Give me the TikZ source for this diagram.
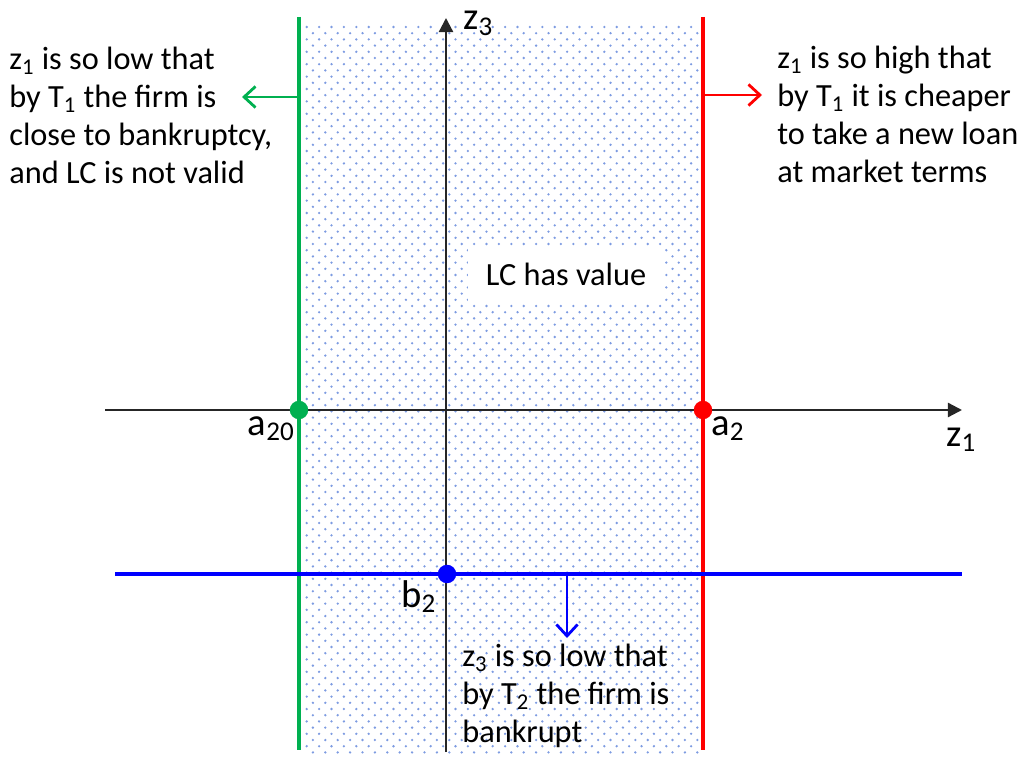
\documentclass[tikz,border=0pt]{standalone}
\usepackage{fontspec}
\setmainfont{Carlito}
\usepackage{tikz}
\usetikzlibrary{arrows.meta, positioning}
\definecolor{lcgreen}{RGB}{0,176,80}
\definecolor{lcred}{RGB}{255,0,0}
\definecolor{lcblue}{RGB}{0,0,255}
\definecolor{lcdot}{RGB}{125,155,225}
\tikzset{
  axisline/.style={
    -{Triangle[length=8pt, width=8pt]}, line width=1.3pt, color=black!85
  },
  boundline/.style={line width=1.9pt},
  hintarrow/.style={
    -{Straight Barb[length=6.5pt, width=12pt]}, line width=1.6pt
  },
  notelabel/.style={
    font=\fontsize{18.4}{21.6}\selectfont, align=left, inner sep=0pt
  },
  axislabel/.style={font=\fontsize{22}{26}\selectfont, inner sep=0pt},
  valuebox/.style={
    fill=white, font=\fontsize{18.4}{21.6}\selectfont,
    minimum width=3.92cm, minimum height=1.14cm
  },
  pointdot/.style={circle, inner sep=0pt, minimum size=10.5pt},
}

\begin{document}
\begin{tikzpicture}[x=0.02cm, y=-0.02cm]
  \useasboundingbox (0,0) rectangle (1028,757);

  % ── Dotted zone between the bounds ──
  \begin{scope}
    \clip (300,0) rectangle (703,757);
    \foreach \r in {0,...,118} {
      \fill[lcdot] \foreach \c in {0,...,32} {
        ({306.7+12.4*\c+6.2*mod(\r,2)}, {27+6.2*\r}) circle[radius=1.3]
      };
    }
  \end{scope}

  \node[valuebox] (lcvalue) at (566,274.5) {LC has value};

  % ── Axes ──
  \coordinate (z1start) at (105,410);
  \coordinate (z1end) at (962,410);
  \coordinate (z3start) at (446,752);
  \coordinate (z3end) at (446,18);
  \draw[axisline] (z1start) -- (z1end);
  \draw[axisline] (z3start) -- (z3end);
  \node[axislabel, anchor=base west] (z1label) at (946,446) {z\textsubscript{1}};
  \node[axislabel, anchor=base west] (z3label) at (463,30) {z\textsubscript{3}};

  % ── Lower bound a20 ──
  \coordinate (greentop) at (299,17);
  \coordinate (greenbot) at (299,750);
  \coordinate (greenmid) at (299,97);
  \coordinate (greentip) at (242,97);
  \draw[boundline, lcgreen] (greentop) -- (greenbot);
  \draw[hintarrow, lcgreen] (greenmid) -- (greentip);
  \node[pointdot, fill=lcgreen] (a20dot) at (299,410) {};
  \node[axislabel, anchor=base east] (a20label) at (295,435) {a\textsubscript{20}};
  \node[notelabel, anchor=north west] (lowlabel) at (9,47)
    {z\textsubscript{1} is so low that\\by T\textsubscript{1} the firm is\\
     close to bankruptcy,\\and LC is not valid};

  % ── Upper bound a2 ──
  \coordinate (redtop) at (703,17);
  \coordinate (redbot) at (703,750);
  \coordinate (redmid) at (703,95);
  \coordinate (redtip) at (762,95);
  \draw[boundline, lcred] (redtop) -- (redbot);
  \draw[hintarrow, lcred] (redmid) -- (redtip);
  \node[pointdot, fill=lcred] (a2dot) at (703,410) {};
  \node[axislabel, anchor=base west] (a2label) at (711,435) {a\textsubscript{2}};
  \node[notelabel, anchor=north west] (highlabel) at (777,46)
    {z\textsubscript{1} is so high that\\by T\textsubscript{1} it is cheaper\\
     to take a new loan\\at market terms};

  % ── Bankruptcy level b2 ──
  \coordinate (bluestart) at (115,574);
  \coordinate (blueend) at (962,574);
  \coordinate (bluemid) at (567,574);
  \coordinate (bluetip) at (567,638);
  \draw[boundline, lcblue] (bluestart) -- (blueend);
  \draw[hintarrow, lcblue] (bluemid) -- (bluetip);
  \node[pointdot, fill=lcblue] (b2dot) at (447,574) {};
  \node[axislabel, anchor=base west] (b2label) at (401,607) {b\textsubscript{2}};
  \node[notelabel, anchor=north west] (bankruptlabel) at (462,644)
    {z\textsubscript{3} is so low that\\by T\textsubscript{2} the firm is\\bankrupt};
\end{tikzpicture}
\end{document}
